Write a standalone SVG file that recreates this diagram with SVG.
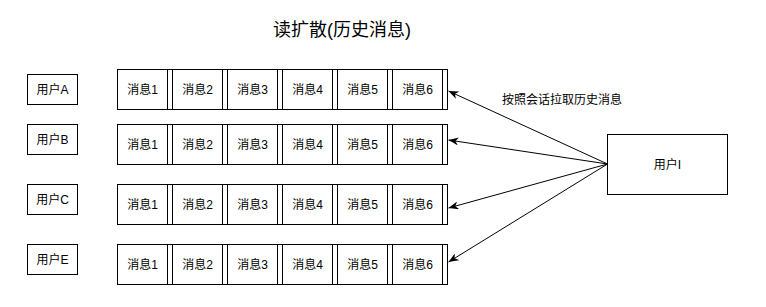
<svg xmlns="http://www.w3.org/2000/svg" width="766" height="307" viewBox="0 0 766 307">
<defs>
<pattern id="grid" x="37" y="24" width="40" height="40" patternUnits="userSpaceOnUse">
<path d="M10.5 0V40M20.5 0V40M30.5 0V40M0 10.5H40M0 20.5H40M0 30.5H40" stroke="#f0f0f0" stroke-width="1" fill="none"/>
<path d="M0.5 0V40M0 0.5H40" stroke="#e0e0e0" stroke-width="1" fill="none"/>
</pattern>
<marker id="arr" viewBox="0 0 10 8" refX="10" refY="4" markerWidth="10" markerHeight="8" orient="auto" markerUnits="userSpaceOnUse">
<path d="M0,0 L10,4 L0,8 L3,4 Z" fill="#000"/>
</marker>
<g id="row">
<rect x="117.5" y="0.5" width="330" height="40"/>
<rect x="117.5" y="0.5" width="50" height="40"/>
<rect x="172.5" y="0.5" width="50" height="40"/>
<rect x="227.5" y="0.5" width="50" height="40"/>
<rect x="282.5" y="0.5" width="50" height="40"/>
<rect x="337.5" y="0.5" width="50" height="40"/>
<rect x="392.5" y="0.5" width="50" height="40"/>
<text x="142.5" y="25">消息1</text>
<text x="197.5" y="25">消息2</text>
<text x="252.5" y="25">消息3</text>
<text x="307.5" y="25">消息4</text>
<text x="362.5" y="25">消息5</text>
<text x="417.5" y="25">消息6</text>
</g>
</defs>
<style>
rect{fill:#fff;stroke:#000;stroke-width:1}
text{font-family:"Liberation Sans","Noto Sans CJK SC",sans-serif;font-size:12px;fill:#000;text-anchor:middle}
.title{font-size:18px}
.lbl{text-anchor:start}
.edge{fill:none;stroke:#000;stroke-width:1;marker-end:url(#arr)}
</style>
<rect x="0" y="0" width="766" height="307" fill="url(#grid)" style="stroke:none"/>
<text class="title" x="342" y="36">读扩散(历史消息)</text>
<g id="userA"><rect x="27.5" y="74.5" width="50" height="30"/><text x="52.5" y="94">用户A</text></g>
<g id="userB"><rect x="27.5" y="124.5" width="50" height="30"/><text x="52.5" y="144">用户B</text></g>
<g id="userC"><rect x="27.5" y="184.5" width="50" height="30"/><text x="52.5" y="204">用户C</text></g>
<g id="userE"><rect x="27.5" y="244.5" width="50" height="30"/><text x="52.5" y="264">用户E</text></g>
<g id="msgsA" transform="translate(0,69)"><use href="#row"/></g>
<g id="msgsB" transform="translate(0,124)"><use href="#row"/></g>
<g id="msgsC" transform="translate(0,184)"><use href="#row"/></g>
<g id="msgsE" transform="translate(0,244)"><use href="#row"/></g>
<g id="userI"><rect x="607.5" y="134.5" width="120" height="60"/><text x="667.5" y="168.5">用户I</text></g>
<g id="connectors">
<path class="edge" d="M607.5 164 L448.5 91"/>
<path class="edge" d="M607.5 164 L448.5 140"/>
<path class="edge" d="M607.5 164 L448.5 208"/>
<path class="edge" d="M607.5 164 L448.5 262"/>
<text class="lbl" x="502" y="104">按照会话拉取历史消息</text>
</g>
</svg>
